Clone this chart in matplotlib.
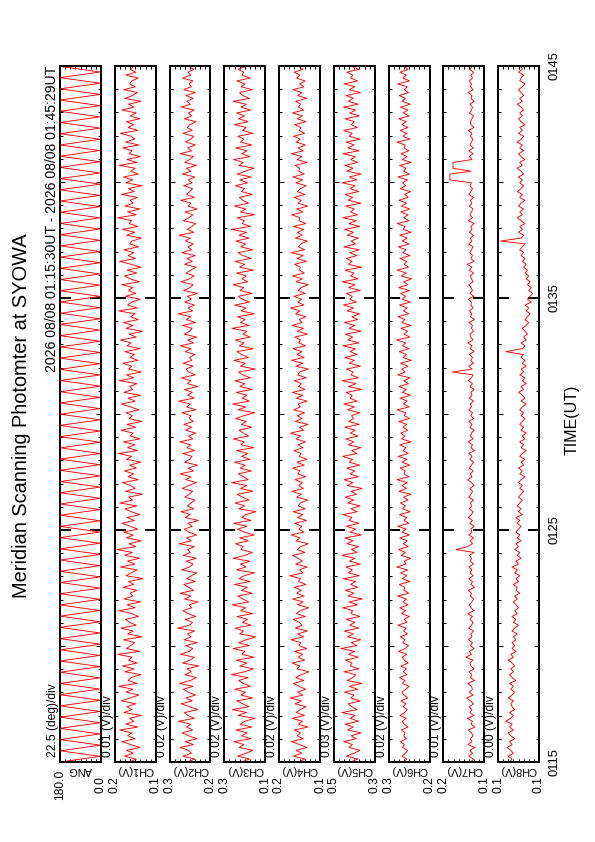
import matplotlib.pyplot as plt
import numpy as np
from matplotlib.ticker import MultipleLocator

plt.rcParams['font.family'] = ['Liberation Sans', 'DejaVu Sans']

title = 'Meridian Scanning Photomter at SYOWA'
period = '2026 08/08 01:15:30UT - 2026 08/08 01:45:29UT'
duration = 29.983  # minutes, 01:15:30 -> 01:45:29
time_ticks = [0, 10, 20, 30]
time_labels = ['0115', '0125', '0135', '0145']

names = ['ANG', 'CH1(V)', 'CH2(V)', 'CH3(V)', 'CH4(V)', 'CH5(V)', 'CH6(V)', 'CH7(V)', 'CH8(V)']
scales = ['22.5 (deg)/div', '0.01 (V)/div', '0.02 (V)/div', '0.02 (V)/div', '0.02 (V)/div',
          '0.03 (V)/div', '0.02 (V)/div', '0.01 (V)/div', '0.00 (V)/div']
vmin = [0.0, 0.10, 0.17, 0.13, 0.07, 0.27, 0.16, 0.11, 0.090]
vmax = [180.0, 0.18, 0.33, 0.29, 0.23, 0.51, 0.32, 0.19, 0.122]

# scan angle (deg), turning points of the meridian scan
ang = [180, 4, 179, 3, 180, 5, 180, 3, 178, 4,
       180, 3, 180, 6, 179, 4, 180, 3, 180, 5,
       178, 3, 180, 4, 180, 3, 179, 5, 180, 4,
       180, 3, 178, 4, 180, 5, 180, 3, 179, 4,
       180, 3, 180, 4, 178, 6, 180, 3, 180, 4,
       179, 3, 180, 5, 180, 4, 178, 3, 180, 4,
       180, 3, 179, 5, 180, 4, 180, 3, 178, 4,
       180, 6, 180, 3, 179, 4, 180, 5, 180, 3,
       178, 4, 180, 3, 180, 5, 179, 4, 180, 3,
       180, 4, 178, 3, 180, 5, 180, 4, 179, 3,
       180, 5, 180, 3, 178, 4, 180, 3, 179, 6,
       180, 4, 180, 3, 178, 5, 180, 4, 180, 3,
       179, 4, 180, 3, 180]

# photometer channels, mV
ch1 = [152, 138, 161, 144, 157, 131, 149, 166, 140, 155, 147, 170, 135, 158, 143, 151, 128, 162, 146, 156,
       139, 167, 150, 133, 158, 145, 172, 137, 154, 148, 129, 160, 142, 165, 136, 153, 146, 174, 132, 157,
       149, 141, 163, 127, 155, 144, 168, 138, 151, 159, 134, 147, 171, 140, 156, 130, 162, 145, 150, 137,
       164, 143, 153, 125, 158, 148, 136, 169, 141, 155, 132, 160, 146, 175, 139, 152, 128, 157, 144, 163,
       135, 150, 166, 142, 156, 131, 148, 160, 137, 170, 145, 153, 126, 159, 140, 149, 165, 134, 154, 143,
       161, 138, 151, 129, 157, 147, 173, 136, 155, 141, 163, 131, 150, 144, 168, 139, 156, 127, 152, 146,
       158, 133, 149, 167, 140, 154, 130, 162, 145, 151, 137, 171, 143, 157, 128, 153, 147, 164, 135, 150,
       142, 160, 131, 156, 148, 169, 138, 152, 126, 158, 144, 163, 134, 149, 141, 172, 136, 155, 147, 130,
       159, 139, 153, 145, 166, 132, 150, 161, 137, 156, 129, 148, 170, 140, 154, 143, 162, 133, 151, 146,
       128, 157, 141, 165, 135, 152, 147, 174, 138, 155, 131, 160, 144, 150, 136, 167, 142, 153, 127, 158,
       145, 163, 134, 149, 140, 171, 137, 156, 130, 152, 146, 164, 133, 159, 141, 148, 169, 135, 154, 143,
       157, 131, 150, 138, 166, 142, 153, 129, 160, 145, 136, 162, 140, 151, 147, 134, 158, 139, 149, 144]

ch2 = [262, 231, 278, 244, 256, 289, 237, 268, 222, 255, 281, 240, 263, 248, 295, 233, 259, 272, 219, 252,
       284, 241, 266, 228, 257, 276, 238, 291, 249, 226, 270, 245, 261, 215, 279, 250, 234, 286, 253, 239,
       267, 221, 273, 246, 260, 232, 298, 251, 240, 269, 227, 258, 277, 243, 254, 218, 271, 247, 288, 236,
       256, 274, 229, 263, 244, 223, 283, 252, 238, 265, 226, 276, 249, 259, 233, 292, 245, 264, 224, 255,
       272, 241, 258, 217, 268, 250, 285, 235, 261, 246, 230, 270, 253, 240, 280, 255, 225, 266, 247, 289,
       236, 257, 221, 271, 251, 242, 278, 232, 262, 248, 290, 239, 256, 228, 267, 244, 274, 237, 253, 246,
       281, 227, 263, 249, 294, 234, 258, 241, 272, 219, 260, 247, 283, 230, 256, 265, 238, 276, 243, 252,
       231, 269, 246, 287, 236, 259, 224, 273, 251, 242, 279, 229, 264, 248, 296, 240, 257, 233, 270, 245,
       260, 220, 275, 250, 238, 284, 253, 234, 266, 247, 226, 271, 241, 262, 230, 282, 244, 258, 237, 268,
       249, 293, 235, 261, 243, 228, 276, 254, 239, 269, 222, 258, 247, 286, 233, 263, 251, 240, 274, 242,
       257, 231, 280, 246, 264, 225, 270, 252, 237, 288, 244, 259, 229, 267, 248, 236, 277, 241, 261, 250,
       226, 272, 243, 256, 234, 284, 249, 262, 238, 266, 230, 275, 245, 253, 239, 279, 247, 258, 235, 255]

ch3 = [224, 191, 238, 205, 178, 231, 214, 252, 186, 222, 201, 244, 183, 228, 210, 170, 236, 203, 258, 194,
       218, 241, 180, 225, 207, 249, 188, 216, 233, 197, 262, 211, 176, 229, 202, 243, 174, 221, 209, 255,
       192, 234, 204, 168, 230, 215, 247, 185, 219, 199, 240, 179, 226, 206, 259, 195, 217, 237, 182, 223,
       200, 251, 189, 232, 212, 172, 242, 205, 227, 190, 256, 208, 181, 224, 216, 246, 196, 230, 173, 213,
       238, 201, 253, 186, 221, 207, 166, 233, 211, 248, 193, 219, 239, 178, 226, 203, 261, 197, 215, 235,
       184, 228, 209, 250, 190, 222, 199, 241, 175, 225, 212, 254, 195, 216, 232, 183, 223, 204, 245, 214,
       171, 236, 206, 257, 192, 220, 201, 243, 180, 229, 210, 248, 187, 218, 234, 169, 227, 208, 252, 196,
       222, 240, 177, 231, 213, 246, 189, 217, 202, 260, 194, 226, 209, 238, 173, 224, 205, 249, 191, 219,
       235, 182, 228, 214, 255, 198, 221, 204, 242, 176, 230, 211, 247, 186, 217, 236, 179, 225, 207, 244,
       193, 232, 203, 263, 188, 220, 212, 239, 172, 227, 206, 251, 195, 218, 231, 181, 223, 210, 246, 199,
       229, 185, 240, 208, 174, 233, 216, 253, 190, 222, 201, 245, 183, 227, 213, 237, 178, 219, 205, 250,
       197, 234, 211, 242, 187, 225, 204, 256, 192, 218, 230, 180, 224, 209, 241, 189, 221, 214, 236, 206]

ch4 = [156, 128, 174, 141, 163, 121, 150, 181, 135, 159, 146, 170, 117, 154, 139, 178, 131, 162, 148, 124,
       168, 142, 186, 137, 157, 126, 152, 173, 133, 164, 144, 113, 160, 149, 179, 130, 155, 138, 169, 122,
       153, 145, 183, 134, 158, 119, 166, 140, 151, 175, 127, 162, 147, 114, 157, 136, 177, 132, 161, 143,
       171, 125, 154, 146, 188, 136, 150, 120, 165, 139, 156, 176, 129, 159, 145, 116, 164, 148, 182, 133,
       152, 141, 169, 123, 158, 137, 174, 128, 155, 147, 118, 161, 143, 180, 135, 153, 139, 167, 126, 157,
       148, 176, 131, 160, 122, 151, 144, 172, 136, 156, 127, 163, 145, 185, 134, 150, 117, 166, 140, 159,
       130, 173, 147, 155, 121, 162, 138, 178, 129, 154, 143, 170, 124, 157, 149, 115, 164, 137, 181, 132,
       160, 141, 175, 127, 153, 146, 168, 119, 158, 135, 179, 140, 151, 125, 165, 148, 186, 133, 156, 142,
       172, 128, 155, 144, 116, 163, 139, 177, 131, 150, 147, 169, 123, 159, 136, 183, 130, 154, 145, 120,
       166, 140, 157, 134, 174, 126, 152, 148, 180, 137, 161, 118, 156, 143, 171, 129, 158, 146, 124, 164,
       138, 176, 132, 153, 149, 167, 121, 160, 141, 182, 135, 155, 127, 163, 147, 173, 130, 151, 144, 169,
       125, 158, 139, 178, 134, 154, 146, 165, 122, 157, 142, 175, 133, 150, 128, 161, 148, 171, 136, 152]

ch5 = [412, 368, 437, 391, 357, 421, 401, 452, 378, 408, 350, 429, 396, 444, 365, 414, 385, 461, 373, 405,
       426, 355, 410, 392, 447, 370, 419, 346, 432, 398, 381, 450, 362, 413, 403, 441, 367, 423, 389, 466,
       376, 407, 352, 430, 395, 448, 364, 416, 386, 437, 358, 409, 399, 457, 371, 420, 343, 427, 393, 442,
       369, 411, 383, 453, 360, 424, 401, 439, 354, 417, 388, 462, 374, 406, 366, 433, 397, 445, 349, 415,
       382, 436, 363, 421, 404, 455, 372, 410, 356, 428, 394, 442, 377, 408, 345, 431, 398, 449, 366, 414,
       387, 434, 359, 419, 400, 458, 375, 405, 351, 426, 392, 440, 368, 412, 384, 446, 361, 422, 395, 406,
       357, 429, 389, 451, 373, 415, 402, 438, 347, 424, 380, 460, 366, 409, 397, 435, 354, 418, 390, 445,
       372, 413, 385, 456, 362, 427, 399, 441, 350, 420, 388, 448, 370, 404, 359, 432, 394, 453, 377, 416,
       401, 437, 355, 423, 386, 459, 368, 411, 392, 444, 348, 426, 403, 436, 374, 417, 361, 450, 383, 408,
       366, 430, 395, 447, 358, 421, 379, 455, 371, 412, 389, 439, 352, 425, 400, 442, 364, 414, 385, 461,
       376, 418, 349, 433, 397, 446, 369, 410, 384, 457, 362, 428, 391, 437, 356, 420, 402, 451, 373, 407,
       390, 443, 360, 416, 381, 452, 367, 425, 396, 438, 354, 419, 387, 449, 371, 411, 398, 434, 363, 405]

ch6 = [262, 249, 268, 254, 246, 265, 258, 273, 250, 261, 255, 270, 244, 259, 266, 251, 275, 257, 247, 263,
       253, 271, 245, 260, 268, 252, 240, 266, 256, 277, 248, 262, 250, 272, 243, 258, 267, 249, 280, 255,
       242, 264, 256, 274, 246, 261, 251, 283, 248, 259, 239, 269, 253, 276, 244, 263, 250, 285, 241, 260,
       257, 278, 236, 266, 249, 272, 245, 288, 252, 258, 234, 270, 254, 281, 243, 262, 247, 276, 238, 267,
       251, 284, 241, 259, 249, 277, 235, 265, 254, 273, 244, 261, 233, 279, 250, 268, 246, 287, 240, 260,
       255, 274, 237, 267, 248, 282, 243, 263, 252, 276, 232, 269, 256, 272, 245, 264, 249, 280, 238, 258,
       253, 286, 239, 262, 247, 275, 234, 266, 251, 279, 242, 260, 236, 284, 255, 268, 244, 273, 231, 263,
       250, 278, 240, 265, 253, 289, 237, 259, 246, 271, 233, 268, 256, 283, 241, 262, 248, 277, 235, 266,
       254, 272, 238, 280, 245, 261, 230, 270, 251, 286, 242, 258, 249, 275, 236, 264, 252, 281, 239, 267,
       247, 276, 233, 263, 255, 285, 240, 260, 244, 272, 237, 269, 250, 279, 243, 257, 234, 274, 253, 265,
       246, 283, 238, 261, 252, 277, 232, 266, 248, 271, 241, 259, 255, 287, 236, 263, 249, 274, 244, 268,
       251, 280, 239, 262, 245, 273, 235, 267, 254, 278, 242, 258, 247, 284, 238, 264, 250, 275, 243, 260]

ch7 = [136, 131, 140, 133, 138, 129, 142, 134, 137, 132, 135, 141, 128, 136, 133, 143, 130, 138, 134, 139,
       131, 137, 144, 132, 139, 133, 135, 142, 129, 137, 134, 140, 130, 136, 138, 132, 146, 135, 139, 130,
       137, 133, 141, 134, 136, 131, 140, 135, 132, 138, 133, 142, 130, 136, 139, 134, 131, 137, 135, 141,
       129, 136, 133, 140, 132, 138, 134, 140, 131, 137, 135, 139, 130, 165, 143, 133, 137, 131, 140, 134,
       136, 130, 138, 133, 141, 135, 132, 139, 134, 137, 131, 140, 136, 133, 138, 130, 135, 142, 134, 137,
       132, 139, 135, 131, 138, 134, 140, 129, 136, 133, 141, 132, 137, 135, 130, 138, 134, 140, 131, 136,
       133, 140, 135, 137, 131, 139, 134, 136, 130, 138, 133, 141, 135, 132, 172, 134, 140, 131, 136, 133,
       139, 130, 137, 134, 142, 132, 136, 138, 131, 135, 133, 140, 129, 137, 134, 139, 132, 136, 135, 141,
       130, 138, 133, 136, 140, 132, 135, 137, 131, 139, 134, 143, 130, 136, 133, 138, 135, 132, 140, 134,
       137, 131, 139, 134, 136, 130, 141, 133, 138, 135, 132, 139, 134, 137, 131, 140, 136, 133, 138, 135,
       177, 177, 177, 136, 171, 171, 171, 134, 139, 132, 140, 131, 138, 135, 132, 137, 134, 141, 130, 136,
       137, 134, 131, 139, 135, 133, 138, 130, 136, 134, 141, 132, 137, 135, 139, 133, 136, 131, 138, 134]

ch8 = [113, 111, 114, 110, 112, 115, 111, 113, 109, 112, 114, 110, 113, 111, 116, 112, 110, 113, 109, 111,
       112, 110, 114, 111, 109, 112, 110, 113, 108, 111, 113, 110, 112, 109, 111, 114, 110, 112, 108, 111,
       109, 111, 108, 110, 107, 111, 109, 106, 110, 108, 111, 107, 109, 106, 108, 110, 107, 109, 105, 108,
       107, 110, 106, 108, 105, 109, 107, 111, 106, 108, 104, 107, 105, 109, 106, 108, 104, 107, 105, 108,
       106, 104, 107, 105, 108, 103, 106, 104, 107, 105, 103, 106, 104, 102, 105, 103, 106, 104, 101, 105,
       103, 106, 102, 104, 101, 105, 103, 100, 104, 102, 105, 101, 103, 100, 104, 102, 105, 103, 101, 104,
       102, 105, 103, 100, 104, 101, 103, 106, 102, 104, 100, 103, 101, 105, 102, 104, 100, 103, 101, 104,
       102, 116, 103, 101, 104, 100, 102, 99, 101, 103, 100, 98, 101, 99, 97, 100, 98, 101, 96, 99,
       97, 95, 98, 96, 99, 97, 100, 98, 101, 99, 102, 100, 103, 101, 104, 102, 105, 103, 101, 120,
       104, 102, 106, 103, 105, 101, 104, 107, 103, 105, 102, 106, 104, 101, 105, 103, 107, 104, 102, 105,
       103, 106, 102, 104, 107, 103, 105, 101, 104, 106, 102, 105, 103, 107, 104, 102, 106, 103, 105, 101,
       104, 106, 103, 105, 102, 104, 107, 103, 105, 102, 104, 106, 103, 101, 105, 104, 102, 106, 103, 104]

series = [ang] + [np.array(c) / 1000 for c in (ch1, ch2, ch3, ch4, ch5, ch6, ch7, ch8)]

W, H = 595, 842
fig = plt.figure(figsize=(W / 72, H / 72), dpi=72)

for i, vals in enumerate(series):
    left = 60 + i * 54.75
    ax = fig.add_axes([left / W, 80 / H, 41 / W, 696 / H])
    t = np.linspace(0, duration, len(vals))
    ax.plot(vals, t, color='red', lw=0.9)
    ax.set_xlim(vmax[i], vmin[i])   # value grows to the left
    ax.set_ylim(0, 30)

    # value axis: 8 divisions, only end labels
    ax.set_xticks(np.linspace(vmin[i], vmax[i], 9))
    lab = [''] * 9
    lab[0] = f'{vmin[i]:.1f}'
    lab[-1] = f'{vmax[i]:.1f}'
    ax.set_xticklabels(lab, rotation=90, va='center', fontsize=12)
    ax.tick_params(axis='x', direction='in', length=3, width=1, top=True, bottom=True, pad=23)

    # time axis
    ax.set_yticks(time_ticks)
    ax.yaxis.set_minor_locator(MultipleLocator(1))
    ax.tick_params(axis='y', which='major', direction='in', length=11, width=2, left=True, right=True)
    ax.tick_params(axis='y', which='minor', direction='in', length=3, width=1, left=True, right=True)
    if i == len(series) - 1:
        ax.set_yticklabels(time_labels, rotation=90, va='center', fontsize=13)
        ax.tick_params(axis='y', labelleft=False, labelright=True, pad=9)
    else:
        ax.set_yticklabels([])
    for side in ('left', 'right'):
        sec = ax.secondary_yaxis(side)
        sec.set_yticks([5, 15, 25], labels=['', '', ''])
        sec.tick_params(direction='in', length=5, width=1)
        sec.spines[side].set_visible(False)

    for s in ax.spines.values():
        s.set_linewidth(2)

    ax.annotate(names[i], xy=(0.5, 0), xycoords='axes fraction', xytext=(0, -8),
                textcoords='offset points', rotation=180, ha='center', va='center', fontsize=11)
    ax.annotate(scales[i], xy=(0, 0), xycoords='axes fraction', xytext=(-7, 5),
                textcoords='offset points', rotation=90, rotation_mode='anchor',
                ha='left', va='center', fontsize=12)
    if i == 0:
        ax.annotate(period, xy=(0, 1), xycoords='axes fraction', xytext=(-8, 0),
                    textcoords='offset points', rotation=90, rotation_mode='anchor',
                    ha='right', va='center', fontsize=14)

fig.text(22 / W, 1 - 416 / H, title, rotation=90, ha='center', va='center', fontsize=20)
fig.text(572 / W, 1 - 420 / H, 'TIME(UT)', rotation=90, ha='center', va='center', fontsize=16)

fig.savefig('out.png', dpi=72)
